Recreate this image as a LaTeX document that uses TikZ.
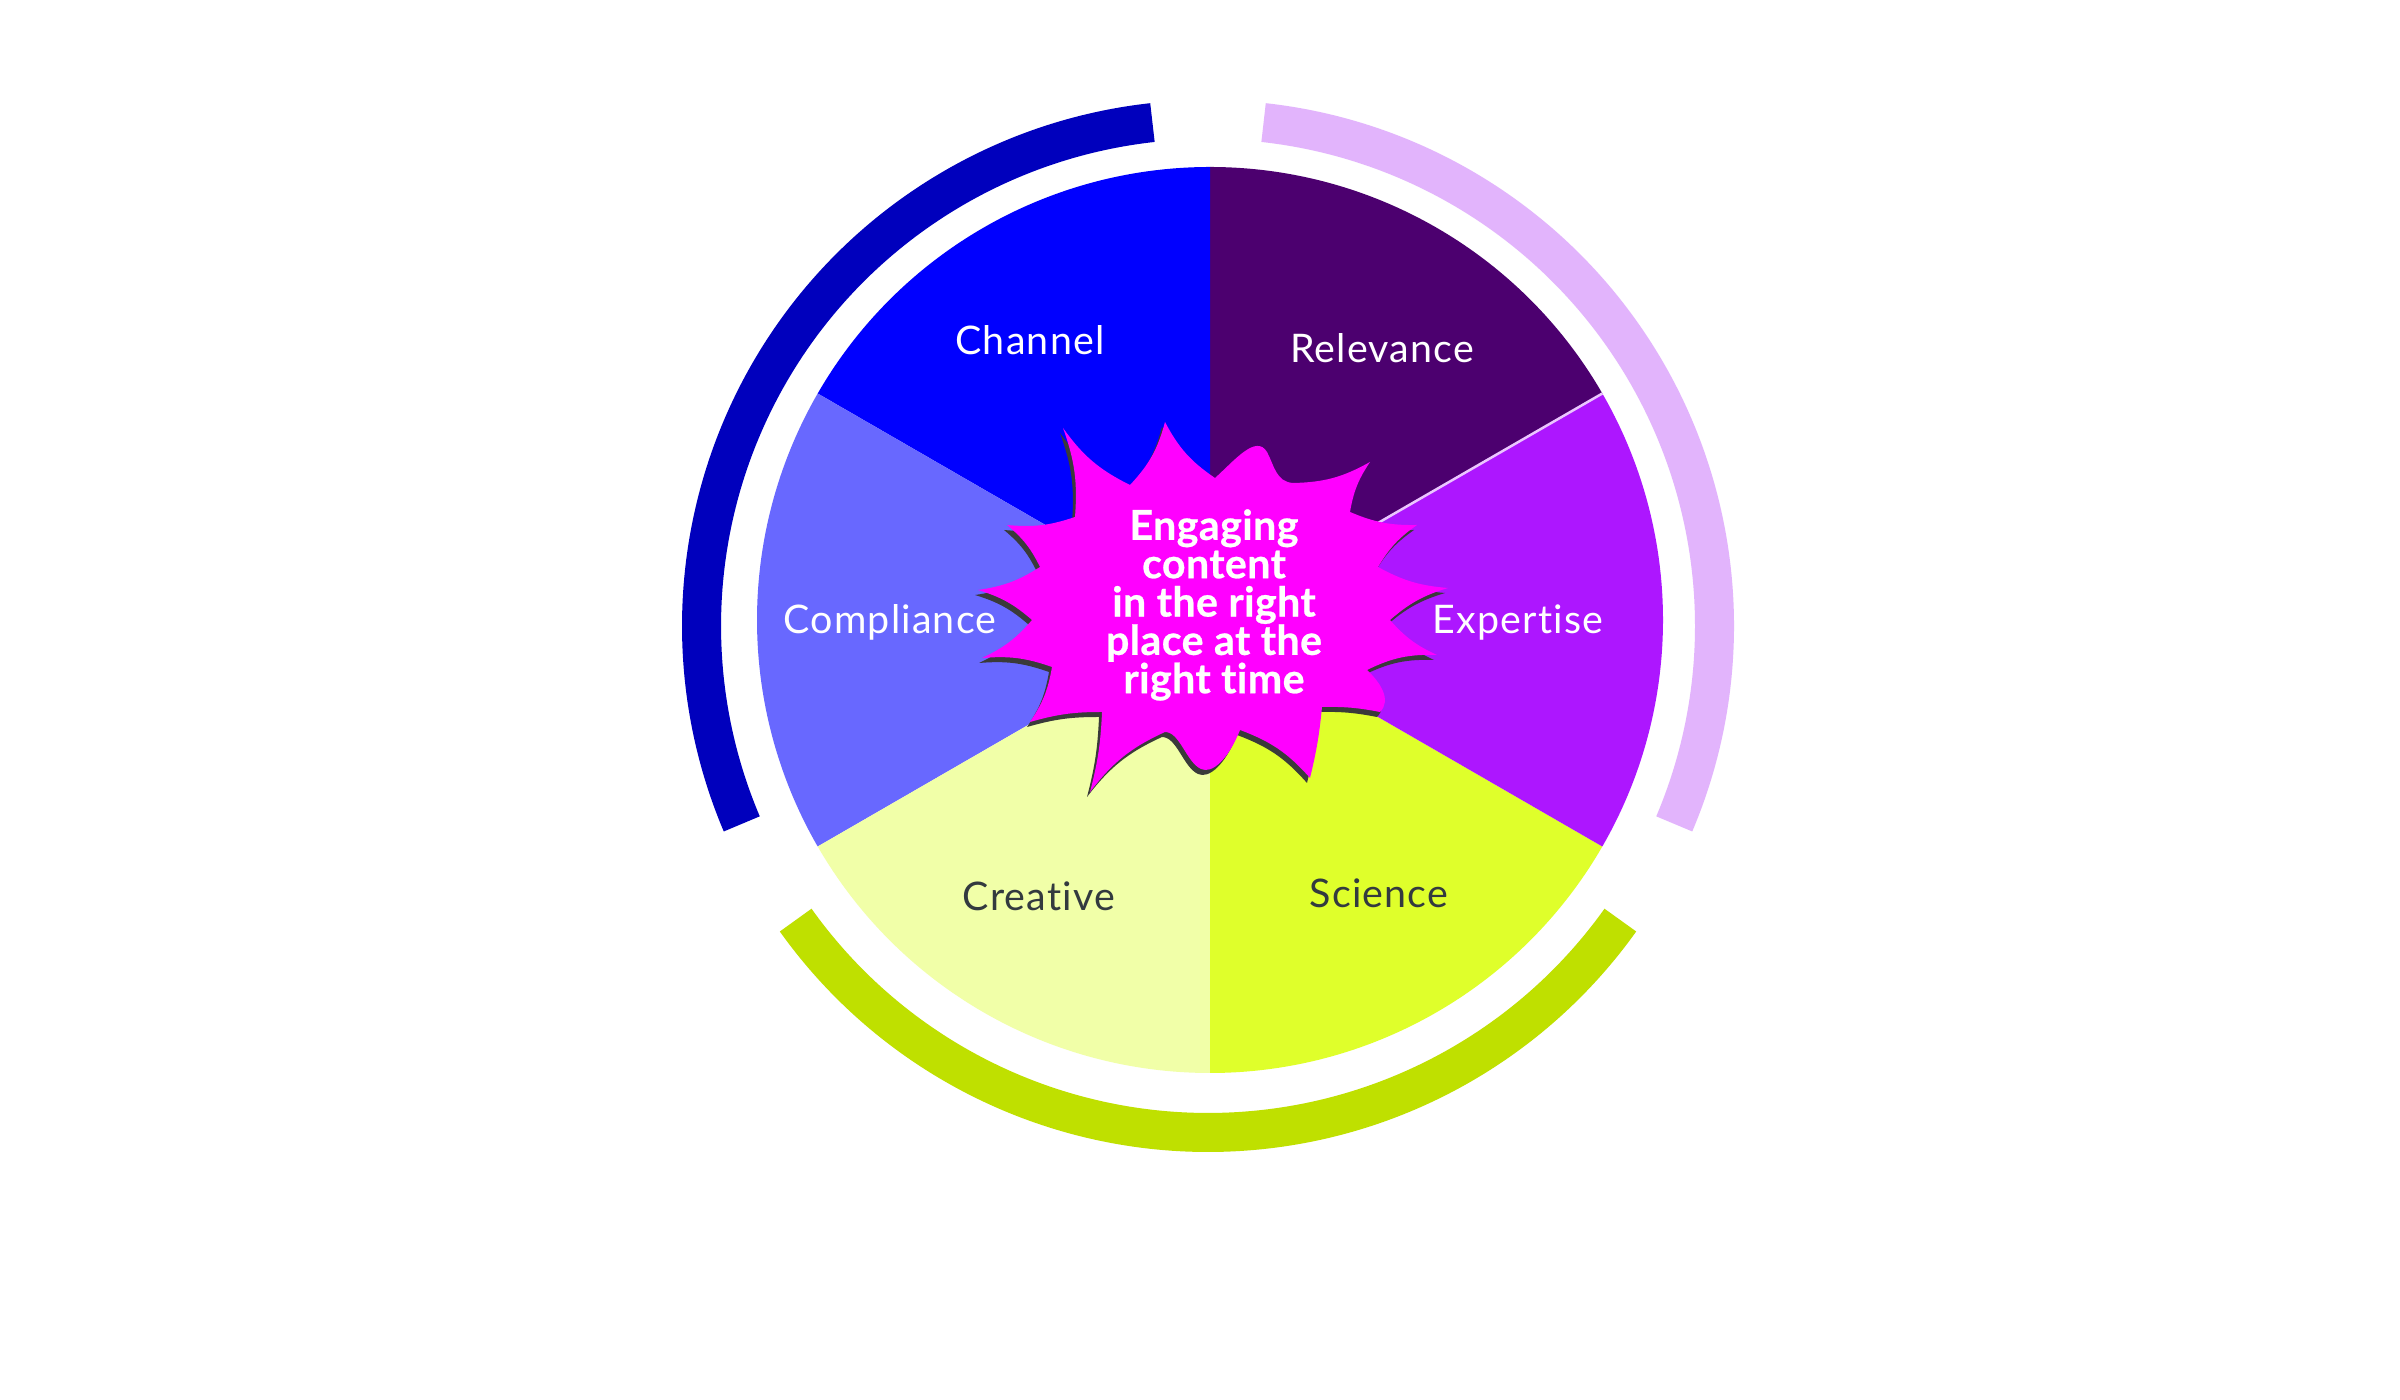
\documentclass[tikz,border=0pt]{standalone}
\usepackage{fontspec}
\setmainfont{Lato}
\newfontfamily\labelfont[LetterSpace=3, Ligatures=NoCommon]{Lato}
\newfontfamily\burstfont[LetterSpace=1, Ligatures=NoCommon, BoldFeatures={FakeBold=0.6}]{Lato}
\definecolor{chan}{HTML}{0000FF}
\definecolor{relv}{HTML}{4C006F}
\definecolor{expt}{HTML}{AD16FF}
\definecolor{scie}{HTML}{DFFF2B}
\definecolor{crea}{HTML}{F1FFA8}
\definecolor{comp}{HTML}{6868FF}
\definecolor{ringblue}{HTML}{0000BD}
\definecolor{ringlilac}{HTML}{E2B4FC}
\definecolor{ringgreen}{HTML}{BFE000}
\definecolor{burst}{HTML}{FF00FF}
\definecolor{shadowc}{HTML}{3A3A3A}
\definecolor{darktext}{HTML}{333A3F}
\begin{document}
\begin{tikzpicture}[x=0.01cm,y=0.01cm,
  ring/.style={line width=3.9mm, line cap=butt},
  seglabel/.style={font=\labelfont\fontsize{11.2}{13}\selectfont, inner sep=0pt},
  bursttext/.style={font=\burstfont\bfseries\fontsize{11.7}{10.9}\selectfont, text=white, align=center, inner sep=0pt}]
\useasboundingbox (0,0) rectangle (2400,1400);
\fill[white] (0,0) rectangle (2400,1400);
\coordinate (pc) at (1210,780);
\coordinate (rc) at (1208,774);
% pie sectors
\foreach \a/\b/\c in {30/90/relv, 90/150/chan, 150/210/comp, 210/270/crea, 270/330/scie, -30/30/expt}
  \fill[\c] (pc) -- ++(\a:453) arc[start angle=\a, end angle=\b, radius=453] -- cycle;
\draw[white!75!expt, line width=0.25mm] (pc) -- ++(30:453);
% outer rings
\draw[ring, ringblue] (rc) ++(96.3:506.5) arc[start angle=96.3, end angle=203, radius=506.5];
\draw[ring, ringgreen] (rc) ++(215.5:506.5) arc[start angle=215.5, end angle=324.5, radius=506.5];
\draw[ring, ringlilac] (rc) ++(-23:506.5) arc[start angle=-23, end angle=83.7, radius=506.5];
% burst
\fill[burst, preaction={fill=shadowc, transform canvas={shift={(-3,-5)}}}]
  (1165,978) to[bend right=14] (1215,922)
  .. controls (1235,940) and (1256,966) .. (1267,948)
  .. controls (1274,935) and (1276,918) .. (1293,917)
  to[bend right=14] (1370,938)
  to[bend right=12] (1350,888)
  to[bend right=12] (1417,875)
  to[bend right=12] (1378,833)
  to[bend right=12] (1448,812)
  to[bend right=12] (1390,780)
  to[bend right=12] (1437,745)
  to[bend right=14] (1367,730)
  .. controls (1380,718) and (1392,700) .. (1380,688)
  to[bend right=6] (1322,693)
  to[bend left=4] (1310,622)
  to[bend right=14] (1240,670)
  .. controls (1228,640) and (1212,626) .. (1201,631)
  .. controls (1186,638) and (1180,668) .. (1165,668)
  to[bend right=14] (1090,608)
  to[bend right=6] (1102,688)
  to[bend right=8] (1030,678)
  to[bend right=12] (1052,733)
  to[bend right=12] (982,742)
  to[bend right=12] (1032,780)
  to[bend right=12] (978,810)
  to[bend right=12] (1040,833)
  to[bend right=12] (1007,875)
  to[bend right=12] (1075,883)
  to[bend right=12] (1063,972)
  to[bend right=14] (1130,915)
  to[bend right=14] (1165,978) -- cycle;
\node[bursttext] (centre) at (1214,795) {Engaging\\content\\in the right\\place at the\\right time};
% labels
\node[seglabel, text=white] (channel) at (1030,1060) {Channel};
\node[seglabel, text=white] (relevance) at (1382,1052) {Relevance};
\node[seglabel, text=white] (expertise) at (1518,777) {Expertise};
\node[seglabel, text=white] (compliance) at (890,778) {Compliance};
\node[seglabel, text=darktext] (creative) at (1039,504) {Creative};
\node[seglabel, text=darktext] (science) at (1379,507) {Science};
\end{tikzpicture}
\end{document}
